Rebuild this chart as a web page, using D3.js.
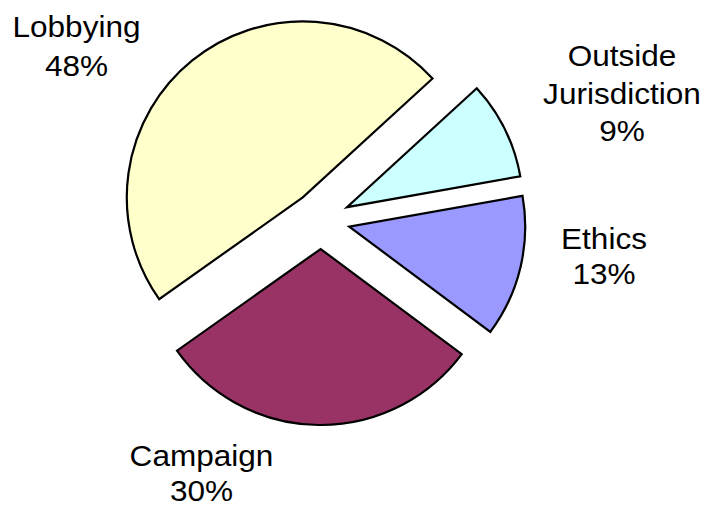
<!DOCTYPE html>
<html>
<head>
<meta charset="utf-8">
<script src="https://cdn.jsdelivr.net/npm/d3@7"></script>
<style>
  html, body { margin: 0; padding: 0; background: #fff; }
  svg { display: block; }
  text { font-family: "Liberation Sans", Arial, sans-serif; fill: #000; }
</style>
</head>
<body>
<svg id="chart" width="704" height="508"></svg>
<script>
// Data
const categories = ["Lobbying", "Outside Jurisdiction", "Ethics", "Campaign"];
const values = [48, 9, 13, 30];
const percentLabels = ["48%", "9%", "13%", "30%"];
const labelLines = [["Lobbying"], ["Outside", "Jurisdiction"], ["Ethics"], ["Campaign"]];

// Style / layout
const colors = ["#FFFFCC", "#CCFFFF", "#9999FF", "#993366"];
const cx = 321, cy = 220, radius = 176, explode = 29;
const startDeg = -125.3;
const labelLayout = [
  { x: 76.5, y: 37.5, gap: 38.5 },
  { x: 622, y: 66.5, gap: 37.5 },
  { x: 604, y: 249, gap: 35.5 },
  { x: 201.5, y: 466, gap: 35.5 }
];
const fontSize = 29.5;
const stretchX = 1.07;

const svg = d3.select("#chart");
const toRad = d => d * Math.PI / 180;

const pie = d3.pie()
  .sort(null)
  .value(d => d.value)
  .startAngle(toRad(startDeg))
  .endAngle(toRad(startDeg) + 2 * Math.PI);

const data = categories.map((c, i) => ({ name: c, value: values[i], i }));
const arcs = pie(data);
const arcGen = d3.arc().innerRadius(0).outerRadius(radius);

const g = svg.append("g").attr("transform", `translate(${cx},${cy})`);

g.selectAll("path")
  .data(arcs)
  .join("path")
  .attr("d", arcGen)
  .attr("transform", d => {
    const mid = (d.startAngle + d.endAngle) / 2;
    return `translate(${explode * Math.sin(mid)},${-explode * Math.cos(mid)})`;
  })
  .attr("fill", d => colors[d.data.i])
  .attr("stroke", "#000")
  .attr("stroke-width", 2.2)
  .attr("stroke-linejoin", "miter");

// Labels
arcs.forEach(d => {
  const i = d.data.i;
  const pos = labelLayout[i];
  const lines = labelLines[i].concat([percentLabels[i]]);
  const t = svg.append("g")
    .attr("transform", `translate(${pos.x},0) scale(${stretchX},1)`)
    .append("text")
    .attr("text-anchor", "middle")
    .attr("font-size", fontSize);
  lines.forEach((ln, k) => {
    t.append("tspan")
      .attr("x", 0)
      .attr("y", pos.y + k * pos.gap)
      .text(ln);
  });
});
</script>
</body>
</html>
